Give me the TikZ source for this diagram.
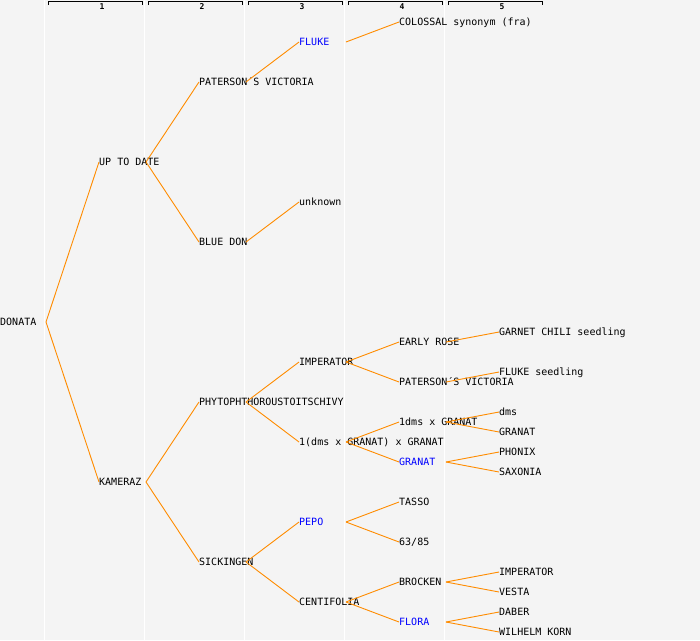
\documentclass[tikz,border=0pt]{standalone}
\usepackage{fontspec}
\setmonofont{DejaVu Sans Mono}
\usepackage{tikz}
\definecolor{bgcol}{RGB}{244,244,244}
\definecolor{linkcol}{RGB}{255,140,0}
\definecolor{namecol}{RGB}{0,0,255}

\begin{document}
\begin{tikzpicture}[x=1pt,y=-1pt]
 \tikzstyle{cultivar} = [anchor=west,inner sep=0,text height=7.3pt,text depth=0pt,font=\fontsize{10}{12}\ttfamily]
 \tikzstyle{synonym} = [cultivar,text=namecol]
 \tikzstyle{link} = [draw=linkcol,line width=0.9pt]
 \tikzstyle{colline} = [draw=white,line width=1.2pt]
 \tikzstyle{bracket} = [draw=black,line width=1pt]
 \tikzstyle{genlabel} = [inner sep=0,font=\fontsize{8}{8}\ttfamily\bfseries]

  % Background and column separators
  \fill[bgcol] (0,0) rectangle (700,640);
  \useasboundingbox (0,0) rectangle (700,640);
  \draw[colline] (44.5,0) -- (44.5,640);
  \draw[colline] (144.5,0) -- (144.5,640);
  \draw[colline] (244.5,0) -- (244.5,640);
  \draw[colline] (344.5,0) -- (344.5,640);
  \draw[colline] (444.5,0) -- (444.5,640);

  % Generation header
  \draw[bracket] (48,5) |- (142.5,1.5) -- (142.5,5);
  \draw[bracket] (148,5) |- (242.5,1.5) -- (242.5,5);
  \draw[bracket] (248,5) |- (342.5,1.5) -- (342.5,5);
  \draw[bracket] (348,5) |- (442.5,1.5) -- (442.5,5);
  \draw[bracket] (448,5) |- (542.5,1.5) -- (542.5,5);
  \node[genlabel] (h1) at (102,7) {1};
  \node[genlabel] (h2) at (202,7) {2};
  \node[genlabel] (h3) at (302,7) {3};
  \node[genlabel] (h4) at (402,7) {4};
  \node[genlabel] (h5) at (502,7) {5};

  % Generation 0 and 1
  \node[cultivar] (donata) at (0,322) {DONATA};
  \node[cultivar] (uptodate) at (99,162) {UP TO DATE};
  \node[cultivar] (kameraz) at (99,482) {KAMERAZ};

  % Generation 2
  \node[cultivar] (paterson) at (199,82) {PATERSON´S VICTORIA};
  \node[cultivar] (bluedon) at (199,242) {BLUE DON};
  \node[cultivar] (phyto) at (199,402) {PHYTOPHTHOROUSTOITSCHIVY};
  \node[cultivar] (sickingen) at (199,562) {SICKINGEN};

  % Generation 3
  \node[synonym ] (fluke) at (299,42) {FLUKE};
  \node[cultivar] (unknown) at (299,202) {unknown};
  \node[cultivar] (imperator) at (299,362) {IMPERATOR};
  \node[cultivar] (dmsgranat) at (299,442) {1(dms x GRANAT) x GRANAT};
  \node[synonym ] (pepo) at (299,522) {PEPO};
  \node[cultivar] (centifolia) at (299,602) {CENTIFOLIA};

  % Generation 4
  \node[cultivar] (colossal) at (399,22) {COLOSSAL synonym (fra)};
  \node[cultivar] (earlyrose) at (399,342) {EARLY ROSE};
  \node[cultivar] (paterson2) at (399,382) {PATERSON´S VICTORIA};
  \node[cultivar] (dmsgranat2) at (399,422) {1dms x GRANAT};
  \node[synonym ] (granat) at (399,462) {GRANAT};
  \node[cultivar] (tasso) at (399,502) {TASSO};
  \node[cultivar] (n6385) at (399,542) {63/85};
  \node[cultivar] (brocken) at (399,582) {BROCKEN};
  \node[synonym ] (flora) at (399,622) {FLORA};

  % Generation 5
  \node[cultivar] (garnet) at (499,332) {GARNET CHILI seedling};
  \node[cultivar] (flukeseed) at (499,372) {FLUKE seedling};
  \node[cultivar] (dms) at (499,412) {dms};
  \node[cultivar] (granat2) at (499,432) {GRANAT};
  \node[cultivar] (phonix) at (499,452) {PHONIX};
  \node[cultivar] (saxonia) at (499,472) {SAXONIA};
  \node[cultivar] (imperator2) at (499,572) {IMPERATOR};
  \node[cultivar] (vesta) at (499,592) {VESTA};
  \node[cultivar] (daber) at (499,612) {DABER};
  \node[cultivar] (wilhelm) at (499,632) {WILHELM KORN};

  % Fork points
  \coordinate (donata-f) at ([xshift=46pt]donata.west);
  \coordinate (uptodate-f) at ([xshift=47pt]uptodate.west);
  \coordinate (kameraz-f) at ([xshift=47pt]kameraz.west);
  \coordinate (paterson-f) at ([xshift=47pt]paterson.west);
  \coordinate (bluedon-f) at ([xshift=47pt]bluedon.west);
  \coordinate (phyto-f) at ([xshift=47pt]phyto.west);
  \coordinate (sickingen-f) at ([xshift=47pt]sickingen.west);
  \coordinate (fluke-f) at ([xshift=47pt]fluke.west);
  \coordinate (imperator-f) at ([xshift=47pt]imperator.west);
  \coordinate (dmsgranat-f) at ([xshift=47pt]dmsgranat.west);
  \coordinate (pepo-f) at ([xshift=47pt]pepo.west);
  \coordinate (centifolia-f) at ([xshift=47pt]centifolia.west);
  \coordinate (earlyrose-f) at ([xshift=47pt]earlyrose.west);
  \coordinate (paterson2-f) at ([xshift=47pt]paterson2.west);
  \coordinate (dmsgranat2-f) at ([xshift=47pt]dmsgranat2.west);
  \coordinate (granat-f) at ([xshift=47pt]granat.west);
  \coordinate (brocken-f) at ([xshift=47pt]brocken.west);
  \coordinate (flora-f) at ([xshift=47pt]flora.west);

  % Links
  \draw[link] (donata-f) -- (uptodate.west);
  \draw[link] (donata-f) -- (kameraz.west);
  \draw[link] (uptodate-f) -- (paterson.west);
  \draw[link] (uptodate-f) -- (bluedon.west);
  \draw[link] (kameraz-f) -- (phyto.west);
  \draw[link] (kameraz-f) -- (sickingen.west);
  \draw[link] (paterson-f) -- (fluke.west);
  \draw[link] (bluedon-f) -- (unknown.west);
  \draw[link] (phyto-f) -- (imperator.west);
  \draw[link] (phyto-f) -- (dmsgranat.west);
  \draw[link] (sickingen-f) -- (pepo.west);
  \draw[link] (sickingen-f) -- (centifolia.west);
  \draw[link] (fluke-f) -- (colossal.west);
  \draw[link] (imperator-f) -- (earlyrose.west);
  \draw[link] (imperator-f) -- (paterson2.west);
  \draw[link] (dmsgranat-f) -- (dmsgranat2.west);
  \draw[link] (dmsgranat-f) -- (granat.west);
  \draw[link] (pepo-f) -- (tasso.west);
  \draw[link] (pepo-f) -- (n6385.west);
  \draw[link] (centifolia-f) -- (brocken.west);
  \draw[link] (centifolia-f) -- (flora.west);
  \draw[link] (earlyrose-f) -- (garnet.west);
  \draw[link] (paterson2-f) -- (flukeseed.west);
  \draw[link] (dmsgranat2-f) -- (dms.west);
  \draw[link] (dmsgranat2-f) -- (granat2.west);
  \draw[link] (granat-f) -- (phonix.west);
  \draw[link] (granat-f) -- (saxonia.west);
  \draw[link] (brocken-f) -- (imperator2.west);
  \draw[link] (brocken-f) -- (vesta.west);
  \draw[link] (flora-f) -- (daber.west);
  \draw[link] (flora-f) -- (wilhelm.west);

\end{tikzpicture}
\end{document}
